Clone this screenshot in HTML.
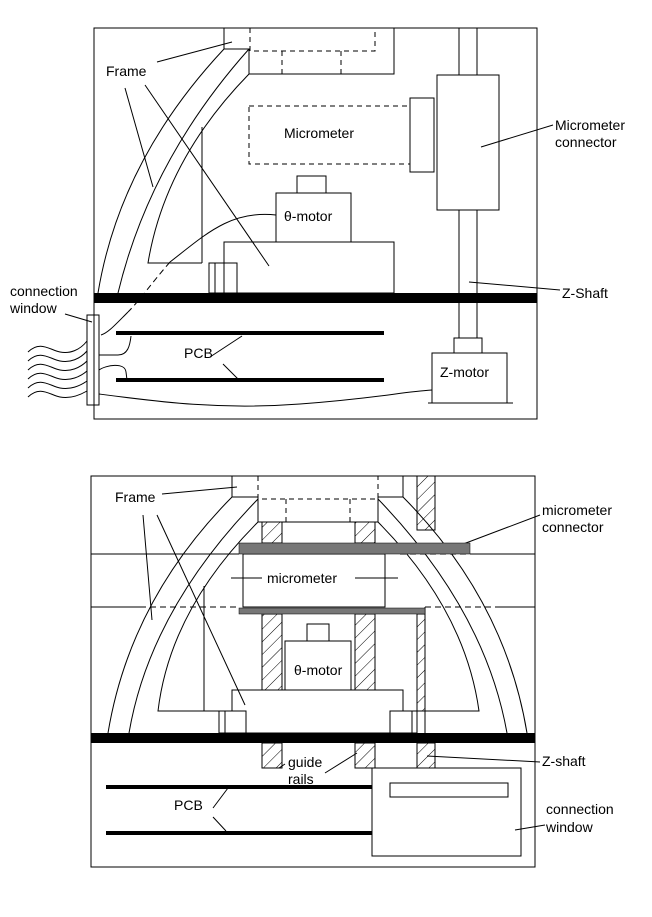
<!DOCTYPE html>
<html><head><meta charset="utf-8"><style>
html,body{margin:0;padding:0;background:#fff;}
svg{display:block;}
text{font-family:"Liberation Sans",Arial,sans-serif;font-size:14px;fill:#000;}
</style></head><body>
<svg width="652" height="917" viewBox="0 0 652 917">
<defs>
<pattern id="hatch" patternUnits="userSpaceOnUse" width="9" height="9" patternTransform="rotate(45)">
<rect width="9" height="9" fill="#fff"/><line x1="0" y1="0" x2="0" y2="9" stroke="#000" stroke-width="1"/>
</pattern>
</defs>
<g fill="none" stroke="#000" stroke-width="1">
<rect x="94" y="28" width="443" height="391"/>
<!-- top block -->
<path d="M224 28 V49 H249 V74 H394 V28"/>
<path d="M250 28 V51 H375 V28 M282 51 V74 M341 51 V74" stroke-dasharray="5,4"/>
<!-- frame arms -->
<path d="M224 49 Q120 160 98 293"/>
<path d="M249 49 Q150 160 118 293"/>
<path d="M249 74 Q165 160 148 263 H202"/>
<line x1="202" y1="127" x2="202" y2="263"/>
<rect x="209" y="263" width="28" height="30"/>
<line x1="215" y1="263" x2="215" y2="293"/>
<rect x="224" y="242" width="170" height="51"/>
<rect x="276" y="193" width="75" height="49"/>
<rect x="297" y="176" width="29" height="17"/>
<rect x="249" y="106" width="161" height="58" stroke-dasharray="5,4"/>
<rect x="410" y="98" width="24" height="74"/>
<rect x="437" y="75" width="62" height="135"/>
<path d="M459 28 V75 M477 28 V75 M459 210 V338 M477 210 V338"/>
<rect x="454" y="338" width="28" height="15"/>
<rect x="432" y="353" width="75" height="50"/>
<line x1="428" y1="403" x2="513" y2="403"/>
<rect x="87" y="315" width="12" height="90"/>
<!-- wavy cables -->
<g>
<path d="M28 352 C40 340 50 350 60 352 S80 350 87 341"/>
<path d="M28 361 C40 349 50 359 60 361 S80 359 87 351"/>
<path d="M28 370 C40 358 50 368 60 370 S80 368 87 361"/>
<path d="M28 379 C40 367 50 377 60 379 S80 377 87 371"/>
<path d="M28 388 C40 376 50 386 60 388 S80 386 87 381"/>
<path d="M28 397 C40 385 50 395 60 397 S80 395 87 391"/>
</g>
<!-- internal cables -->
<path d="M276 215 C230 210 205 235 170 262"/>
<path d="M170 262 C150 285 140 300 128 312" stroke-dasharray="6,4"/>
<path d="M128 312 C115 325 108 333 101 335"/>
<path d="M99 355 H118 C128 355 130 345 131 336"/>
<path d="M99 370 C106 365 125 362 126 372 L127 380"/>
<path d="M99 394 C160 402 220 410 300 404 S400 392 432 390"/>
<!-- leaders -->
<path d="M157 62 L232 42 M125 88 L153 187 M145 85 L269 266"/>
<path d="M553 125 L481 147"/>
<path d="M560 290 L469 282"/>
<path d="M65 314 L92 322"/>
<path d="M210 357 L242 336 M223 364 L238 379"/>
</g>
<rect x="94" y="293" width="443" height="10" fill="#000"/>
<rect x="116" y="331" width="268" height="4" fill="#000"/>
<rect x="116" y="378" width="268" height="4" fill="#000"/>
<text x="106" y="76">Frame</text>
<text x="284" y="138">Micrometer</text>
<text x="284" y="221">θ-motor</text>
<text x="555" y="130">Micrometer</text>
<text x="555" y="147">connector</text>
<text x="562" y="298">Z-Shaft</text>
<text x="10" y="296">connection</text>
<text x="10" y="313">window</text>
<text x="184" y="358">PCB</text>
<text x="440" y="377">Z-motor</text>

<!-- bottom view -->
<g fill="none" stroke="#000" stroke-width="1">
<rect x="91" y="476" width="444" height="391"/>
<path d="M91 554 H239 M470 554 H535"/>
<path d="M400 554 H470" stroke-dasharray="6,4"/>
<path d="M91 607 H140 M500 607 H535"/>
<path d="M140 607 H239 M425 607 H500" stroke-dasharray="6,4"/>
<path d="M232 476 V497 H258 V522 H378 V497 H403 V476"/>
<path d="M258 476 V499 H378 V476 M286 499 V522 M350 499 V522" stroke-dasharray="5,4"/>
<path d="M403 476 V497 M417 476 V530"/>
<rect x="417" y="476" width="18" height="54" fill="url(#hatch)"/>
<rect x="262" y="522" width="20" height="21" fill="url(#hatch)"/>
<rect x="355" y="522" width="20" height="21" fill="url(#hatch)"/>
<rect x="262" y="614" width="20" height="76" fill="url(#hatch)"/>
<rect x="355" y="614" width="20" height="76" fill="url(#hatch)"/>
<rect x="417" y="614" width="8" height="97" fill="url(#hatch)"/>
<line x1="425" y1="607" x2="425" y2="733"/>
<rect x="262" y="743" width="20" height="25" fill="url(#hatch)"/>
<rect x="355" y="743" width="20" height="25" fill="url(#hatch)"/>
<rect x="417" y="743" width="18" height="25" fill="url(#hatch)"/>
<rect x="243" y="554" width="142" height="53" fill="#fff"/>
<rect x="285" y="641" width="66" height="49"/>
<rect x="307" y="624" width="22" height="17"/>
<rect x="232" y="690" width="171" height="43" fill="#fff"/>
<rect x="219" y="711" width="27" height="22" fill="#fff"/>
<line x1="225" y1="711" x2="225" y2="733"/>
<rect x="390" y="711" width="27" height="22" fill="#fff"/>
<line x1="412" y1="711" x2="412" y2="733"/>
<line x1="204" y1="586" x2="204" y2="711"/>
<!-- arcs -->
<path d="M232 497 Q130 600 108 733"/>
<path d="M258 499 Q150 610 129 733"/>
<path d="M258 522 Q170 610 158 711 H219"/>
<path d="M403 497 Q505 600 527 733"/>
<path d="M378 499 Q485 610 507 733"/>
<path d="M378 522 Q465 610 479 711 H417"/>
<rect x="372" y="768" width="149" height="88" fill="#fff"/>
<rect x="390" y="783" width="118" height="14"/>
<path d="M162 494 L237 487 M143 515 L152 620 M157 515 L245 705"/>
<path d="M231 578 H262 M355 578 H398"/>
<path d="M540 515 L458 546"/>
<path d="M325 773 L357 753 M285 764 L279 768"/>
<path d="M540 762 L427 756"/>
<path d="M213 808 L228 788 M213 817 L226 831"/>
<path d="M545 825 L515 830"/>
</g>
<rect x="239" y="543" width="231" height="11" fill="#777" stroke="#000" stroke-width="0.5"/>
<rect x="239" y="608" width="186" height="6" fill="#777" stroke="#000" stroke-width="0.5"/>
<rect x="91" y="733" width="444" height="10" fill="#000"/>
<rect x="106" y="785" width="266" height="4" fill="#000"/>
<rect x="106" y="831" width="266" height="4" fill="#000"/>
<rect x="266" y="571" width="88" height="14" fill="#fff"/>
<text x="267" y="583">micrometer</text>
<text x="115" y="502">Frame</text>
<text x="294" y="675">θ-motor</text>
<text x="542" y="515">micrometer</text>
<text x="542" y="532">connector</text>
<text x="288" y="767">guide</text>
<text x="288" y="784">rails</text>
<text x="542" y="766">Z-shaft</text>
<text x="174" y="810">PCB</text>
<text x="546" y="814">connection</text>
<text x="546" y="832">window</text>
</svg>
</body></html>
